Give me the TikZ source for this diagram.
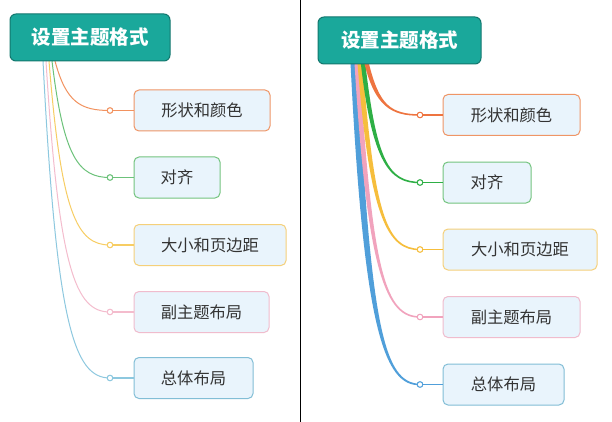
\documentclass[tikz,border=0pt]{standalone}
\usepackage{fontspec}
\setmainfont{Noto Sans CJK SC}
\usetikzlibrary{calc}
\definecolor{rootfill}{HTML}{1AA89B}
\definecolor{rootdraw}{HTML}{13776E}
\definecolor{kidfill}{HTML}{E9F4FC}
\definecolor{kidtext}{HTML}{333333}
\definecolor{cOr}{HTML}{EE7440}
\definecolor{cGr}{HTML}{2EAF45}
\definecolor{cYe}{HTML}{F6BE3C}
\definecolor{cPi}{HTML}{F1A3BD}
\definecolor{cBl}{HTML}{509FDA}
\definecolor{tOr}{HTML}{F2925F}
\definecolor{tGr}{HTML}{6CC27A}
\definecolor{tYe}{HTML}{F7CD63}
\definecolor{tPi}{HTML}{F4BCCD}
\definecolor{tBl}{HTML}{8DC8DF}
\definecolor{bOr}{HTML}{EF9566}
\definecolor{bGr}{HTML}{74C47F}
\definecolor{bYe}{HTML}{F5D07A}
\definecolor{bPi}{HTML}{F0BCCD}
\definecolor{bBl}{HTML}{82BED6}
\tikzset{
  rootbox/.style={draw=rootdraw, fill=rootfill, line width=1pt, rounded corners=6pt,
    minimum width=160pt, minimum height=47pt, text=white, inner sep=0pt,
    font=\fontsize{19.5}{22}\selectfont\bfseries},
  kidbox/.style={draw=#1, fill=kidfill, line width=1pt, rounded corners=5pt,
    minimum height=41pt, text=kidtext, inner sep=0pt,
    font=\fontsize{16.3}{19}\selectfont},
  knob/.style={circle, draw=#1, fill=white, line width=0.9pt, minimum size=5.5pt, inner sep=0pt},
  stub/.style={draw=#1, line width=1.2pt},
  thinbranch/.style={draw=#1, line width=1pt},
}
\newcommand\thinbr[3]{%
  \draw[thinbranch=#3] let \p1=(#1), \p2=(#2.center) in
   (\p1) .. controls ({\x1+0.2*(\x2-\x1)},{\y1+0.83*(\y2-\y1)}) and ({\x1+0.46*(\x2-\x1)},{\y2}) .. (\p2);}
\newcommand\thickbr[4]{%
  \fill[#4] let \p1=(#1), \p2=(#2.center) in
   ({\x1-#3/2},\y1) .. controls ({\x1+0.2*(\x2-\x1)-#3/2},{\y1+0.83*(\y2-\y1)}) and ({\x1+0.46*(\x2-\x1)},{\y2-#3/4}) .. (\x2,{\y2-0.7pt})
   -- (\x2,{\y2+0.7pt}) .. controls ({\x1+0.46*(\x2-\x1)},{\y2+#3/4}) and ({\x1+0.2*(\x2-\x1)+#3/2},{\y1+0.83*(\y2-\y1)}) .. ({\x1+#3/2},\y1) -- cycle;}
\begin{document}
\begin{tikzpicture}[x=1pt,y=-1pt]
\useasboundingbox[fill=white] (0,0) rectangle (612,422);
% divider
\draw[black, line width=1.2pt] (300.5,0) -- (300.5,422);
% ---------- left panel ----------
\coordinate (lsBl) at (43,61);
\coordinate (lsPi) at (46,61);
\coordinate (lsYe) at (49,61);
\coordinate (lsGr) at (52,61);
\coordinate (lsOr) at (55,61);
\node[knob=tOr] (lk1) at (110,110.5) {};
\node[knob=tGr] (lk2) at (110,177.5) {};
\node[knob=tYe] (lk3) at (110,245) {};
\node[knob=tPi] (lk4) at (110,312) {};
\node[knob=tBl] (lk5) at (110,378) {};
\thinbr{lsBl}{lk5}{tBl}
\thinbr{lsPi}{lk4}{tPi}
\thinbr{lsYe}{lk3}{tYe}
\thinbr{lsGr}{lk2}{tGr}
\thinbr{lsOr}{lk1}{tOr}
\node[rootbox] (lroot) at (90,37.5) {设置主题格式};
\node[kidbox=bOr, minimum width=136pt] (l1) at (202,110.5) {形状和颜色};
\node[kidbox=bGr, minimum width=86pt] (l2) at (177,177.5) {对齐};
\node[kidbox=bYe, minimum width=152pt] (l3) at (210,245) {大小和页边距};
\node[kidbox=bPi, minimum width=135pt] (l4) at (201.5,312) {副主题布局};
\node[kidbox=bBl, minimum width=119pt] (l5) at (193.5,378) {总体布局};
\draw[stub=tOr] (lk1) -- (l1.west);
\draw[stub=tGr] (lk2) -- (l2.west);
\draw[stub=tYe] (lk3) -- (l3.west);
\draw[stub=tPi] (lk4) -- (l4.west);
\draw[stub=tBl] (lk5) -- (l5.west);
\node[knob=tOr] at (lk1) {};
\node[knob=tGr] at (lk2) {};
\node[knob=tYe] at (lk3) {};
\node[knob=tPi] at (lk4) {};
\node[knob=tBl] at (lk5) {};
% ---------- right panel ----------
\coordinate (rsBl) at (354,63);
\coordinate (rsPi) at (357,63);
\coordinate (rsYe) at (360,63);
\coordinate (rsGr) at (363,63);
\coordinate (rsOr) at (366.5,63);
\node[knob=cOr] (rk1) at (420,115) {};
\node[knob=cGr] (rk2) at (420,182.5) {};
\node[knob=cYe] (rk3) at (420,249.5) {};
\node[knob=cPi] (rk4) at (420,317) {};
\node[knob=cBl] (rk5) at (420,384.5) {};
\thickbr{rsBl}{rk5}{7pt}{cBl}
\thickbr{rsPi}{rk4}{5pt}{cPi}
\thickbr{rsYe}{rk3}{5pt}{cYe}
\thickbr{rsGr}{rk2}{4.5pt}{cGr}
\thickbr{rsOr}{rk1}{4.5pt}{cOr}
\node[rootbox, minimum width=163pt] (rroot) at (399.5,40.5) {设置主题格式};
\node[kidbox=bOr, minimum width=137pt] (r1) at (511.5,115) {形状和颜色};
\node[kidbox=bGr, minimum width=88pt] (r2) at (487,182.5) {对齐};
\node[kidbox=bYe, minimum width=154pt] (r3) at (520,249.5) {大小和页边距};
\node[kidbox=bPi, minimum width=137pt] (r4) at (511.5,317) {副主题布局};
\node[kidbox=bBl, minimum width=121pt] (r5) at (503.5,384.5) {总体布局};
\draw[stub=cOr] (rk1) -- (r1.west);
\draw[stub=cGr] (rk2) -- (r2.west);
\draw[stub=cYe] (rk3) -- (r3.west);
\draw[stub=cPi] (rk4) -- (r4.west);
\draw[stub=cBl] (rk5) -- (r5.west);
\node[knob=cOr] at (rk1) {};
\node[knob=cGr] at (rk2) {};
\node[knob=cYe] at (rk3) {};
\node[knob=cPi] at (rk4) {};
\node[knob=cBl] at (rk5) {};
\end{tikzpicture}
\end{document}
